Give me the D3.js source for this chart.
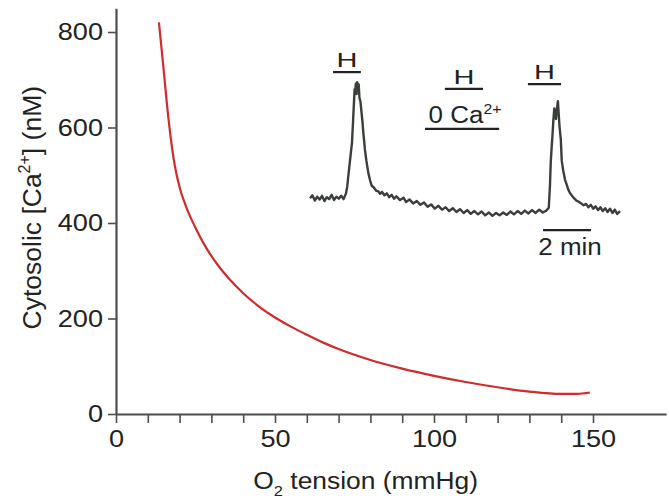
<!DOCTYPE html>
<html>
<head>
<meta charset="utf-8">
<script src="https://cdn.jsdelivr.net/npm/d3@7"></script>
<style>
body { margin: 0; background: #fff; }
text { font-family: "Liberation Sans", Arial, sans-serif; fill: #222; }
</style>
</head>
<body>
<div id="chart"></div>
<script>
// main curve: cytosolic Ca2+ vs O2 tension
const o2_tension = [13.5, 15, 16, 17, 18.5, 20, 22, 25, 28, 32, 36, 40, 45, 50, 55, 60, 65, 70, 80, 90, 100, 110, 120, 130, 140, 145, 149];
const cytosolic_ca = [820, 720, 650, 590, 520, 475, 435, 390, 352, 312, 280, 253, 225, 202, 183, 166, 150, 136, 113, 95, 80, 67, 56, 47, 42, 42, 45];

const x_labels = [0, 50, 100, 150];
const x_minor = d3.range(0, 151, 10);
const y_ticks = [0, 200, 400, 600, 800];

// inset trace (time in min, Ca2+ in nM-equivalent)
const trace_time = [
    0, 0.1, 0.2, 0.3, 0.4, 0.5, 0.6, 0.7, 0.8, 0.9, 1.0, 1.1, 1.2, 1.3, 1.4,
    1.5, 1.55, 1.6, 1.67, 1.72, 1.75, 1.8, 1.83, 1.86, 1.88, 1.91, 1.94, 1.97, 2.0, 2.03,
    2.06, 2.1, 2.15, 2.19, 2.22, 2.26, 2.29, 2.35, 2.43, 2.5, 2.57, 2.65, 2.75, 2.85, 2.92,
    3.0, 3.1, 3.2, 3.3, 3.4, 3.5, 3.6, 3.75, 3.9, 4.0, 4.15, 4.3, 4.45, 4.6, 4.75, 4.9, 5.05, 5.2, 5.35, 5.5,
    5.65, 5.8, 5.95, 6.1, 6.25, 6.4, 6.55, 6.7, 6.85, 7.0, 7.15, 7.3, 7.45, 7.6, 7.75, 7.9, 8.05, 8.2, 8.35, 8.5,
    8.65, 8.8, 8.95, 9.1, 9.25, 9.4, 9.55, 9.7, 9.85, 9.95,
    10.0, 10.03, 10.07, 10.1, 10.14, 10.18, 10.21, 10.25, 10.29, 10.33, 10.36, 10.4, 10.45, 10.49, 10.55, 10.63, 10.7, 10.76, 10.83, 10.9,
    11.0, 11.1, 11.18, 11.3, 11.4, 11.5, 11.6, 11.7, 11.8, 11.9, 12.0, 12.1, 12.2, 12.3, 12.4, 12.5, 12.6, 12.7, 12.8, 12.92
];
const trace_ca = [
    452, 458, 447, 455, 449, 457, 446, 454, 450, 459, 448, 455, 451, 457, 450,
    462, 476, 500, 532, 555, 568, 620, 651, 680, 672, 692, 670, 695, 678, 690,
    662, 655, 630, 610, 590, 570, 553, 530, 505, 490, 478, 475, 468, 466, 461,
    465, 458, 462, 454, 459, 451, 456, 448, 453, 444, 449, 441, 446, 438, 443, 434, 439, 430, 436, 428,
    433, 425, 431, 423, 429, 421, 427, 419, 425, 418, 424, 416, 422, 415, 421, 416, 422, 417, 424, 418,
    425, 419, 426, 420, 427, 421, 428, 422, 426, 432,
    480, 526, 560, 581, 615, 640, 625, 618, 640, 655, 630, 600, 575, 530, 510, 490, 480, 470, 463, 458,
    452, 447, 445, 441, 437, 440, 433, 438, 430, 435, 427, 433, 425, 431, 423, 430, 421, 428, 419, 425
];

// stimulus bars on the inset
const stim_labels = ['H', 'H', '0 Ca', 'H'];
const stim_start = [0.96, 5.62, 4.79, 9.08];
const stim_end = [2.12, 7.21, 7.88, 10.46];
const stim_level = [716, 681, 597, 691];
const scale_bar = [9.71, 11.71];
const scale_level = 385;

const width = 669, height = 499;
const axis_color = '#4d4d4d';

const svg = d3.select('#chart')
    .append('svg')
    .attr('width', width)
    .attr('height', height);

const x = d3.scaleLinear()
    .domain([0, 173])
    .range([116, 116 + 173 * 3.18]);
const y = d3.scaleLinear()
    .domain([0, 850])
    .range([414, 414 - 850 * 0.4775]);
const t = d3.scaleLinear()
    .domain([0, 13])
    .range([310, 622]);

// text with a slight horizontal stretch like the original lettering
function add_text(g, px, py, str, size, sx) {
    return g.append('text')
        .attr('transform', `translate(${px},${py}) scale(${sx},1)`)
        .attr('text-anchor', 'middle')
        .attr('font-size', size)
        .text(str);
}

// axes
const x_axis = svg.append('g')
    .attr('transform', `translate(0,${y(0)})`)
    .call(d3.axisBottom(x)
        .tickValues(x_minor)
        .tickSize(9)
        .tickSizeOuter(0)
        .tickPadding(7)
        .tickFormat((d) => x_labels.includes(d) ? d : ''));
x_axis.selectAll('text')
    .attr('font-size', 24)
    .attr('font-family', null)
    .attr('fill', null)
    .attr('transform', 'scale(1.13,1)');

const y_axis = svg.append('g')
    .attr('transform', `translate(${x(0)},0)`)
    .call(d3.axisLeft(y)
        .tickValues(y_ticks)
        .tickSize(8)
        .tickSizeOuter(0)
        .tickPadding(3.5));
y_axis.selectAll('text')
    .attr('font-size', 24)
    .attr('font-family', null)
    .attr('fill', null)
    .attr('transform', 'scale(1.13,1)');

svg.selectAll('.domain')
    .attr('stroke', axis_color)
    .attr('stroke-width', 2.2);
svg.selectAll('.tick line')
    .attr('stroke', axis_color)
    .attr('stroke-width', 1.6);

// axis titles
const x_title = svg.append('text')
    .attr('transform', `translate(${x(78.5)},489) scale(1.1,1)`)
    .attr('text-anchor', 'middle')
    .attr('font-size', 24);
x_title.append('tspan').text('O');
x_title.append('tspan').attr('font-size', 15).attr('dy', 7).text('2');
x_title.append('tspan').attr('dy', -7).text(' tension (mmHg)');

const y_title = svg.append('text')
    .attr('transform', `translate(41,${y(432)}) rotate(-90)`)
    .attr('text-anchor', 'middle')
    .attr('font-size', 26.5);
y_title.append('tspan').text('Cytosolic [Ca');
y_title.append('tspan').attr('font-size', 16).attr('dy', -11).text('2+');
y_title.append('tspan').attr('dy', 11).text('] (nM)');

// red curve
const points = o2_tension.map((d, i) => ({ x: d, y: cytosolic_ca[i] }));
svg.append('path')
    .datum(points)
    .attr('fill', 'none')
    .attr('stroke', '#d12b2b')
    .attr('stroke-width', 2.2)
    .attr('d', d3.line()
        .curve(d3.curveMonotoneX)
        .x((d) => x(d.x))
        .y((d) => y(d.y)));

// inset trace
const trace = trace_time.map((d, i) => ({ t: d, v: trace_ca[i] }));
svg.append('path')
    .datum(trace)
    .attr('fill', 'none')
    .attr('stroke', '#3a3f3a')
    .attr('stroke-width', 2.4)
    .attr('stroke-linejoin', 'round')
    .attr('d', d3.line()
        .x((d) => t(d.t))
        .y((d) => y(d.v)));

// stimulus bars and labels
const inset = svg.append('g');
stim_labels.forEach((label, i) => {
    inset.append('line')
        .attr('x1', t(stim_start[i]))
        .attr('x2', t(stim_end[i]))
        .attr('y1', y(stim_level[i]))
        .attr('y2', y(stim_level[i]))
        .attr('stroke', '#222')
        .attr('stroke-width', 2.2);
    const cx = t((stim_start[i] + stim_end[i]) / 2);
    if (label === 'H') {
        add_text(inset, cx, y(stim_level[i]) - 5, 'H', 20, 1.45);
    } else {
        const txt = inset.append('text')
            .attr('transform', `translate(${cx + 3},${y(stim_level[i]) - 6}) scale(1.13,1)`)
            .attr('text-anchor', 'middle')
            .attr('font-size', 23);
        txt.append('tspan').text('0 Ca');
        txt.append('tspan').attr('font-size', 14).attr('dy', -9).text('2+');
    }
});

inset.append('line')
    .attr('x1', t(scale_bar[0]))
    .attr('x2', t(scale_bar[1]))
    .attr('y1', y(scale_level))
    .attr('y2', y(scale_level))
    .attr('stroke', '#222')
    .attr('stroke-width', 2.2);
add_text(inset, t((scale_bar[0] + scale_bar[1]) / 2) + 3, y(scale_level) + 25, '2 min', 23, 1.13);
</script>
</body>
</html>
